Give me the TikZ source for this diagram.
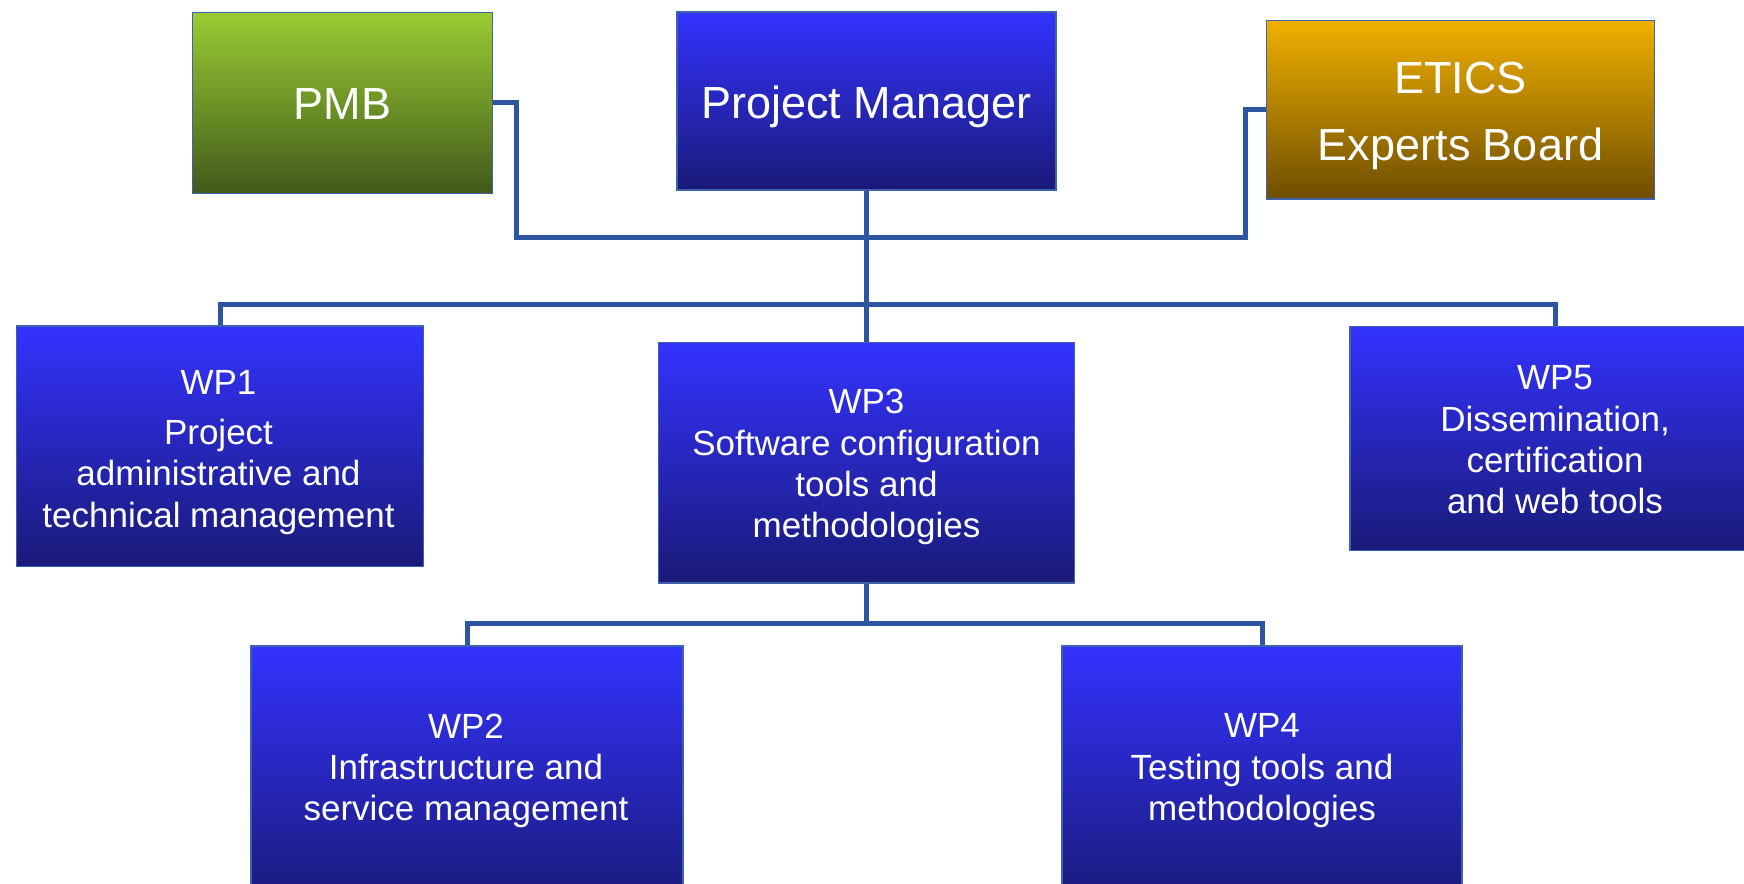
\documentclass[tikz,border=0pt]{standalone}
\usepackage{fontspec}
\setmainfont{Liberation Sans}
\definecolor{bluetop}{HTML}{3333FF}
\definecolor{bluebot}{HTML}{1A1A78}
\definecolor{greentop}{HTML}{99CC33}
\definecolor{greenbot}{HTML}{425A1A}
\definecolor{orangetop}{HTML}{F0B000}
\definecolor{orangebot}{HTML}{6E4E00}
\definecolor{edgecol}{HTML}{3F62A8}
\definecolor{conncol}{HTML}{2E55A0}
\begin{document}
\begin{tikzpicture}[x=1pt,y=-1pt,
  box/.style={draw=edgecol, line width=1.5pt, inner sep=0pt, rectangle},
  bluebox/.style={box, top color=bluetop, bottom color=bluebot},
  greenbox/.style={box, top color=greentop, bottom color=greenbot},
  orangebox/.style={box, top color=orangetop, bottom color=orangebot},
  conn/.style={draw=conncol, line width=5pt},
  bigtxt/.style={text=white, font=\fontsize{45}{66.5}\selectfont, inner sep=0pt, align=center},
  smalltxt/.style={text=white, font=\fontsize{35}{41.4}\selectfont, inner sep=0pt, align=center}]
\useasboundingbox (0,0) rectangle (1744,883);
\clip (0,0) rectangle (1744,883);
% connector junctions
\coordinate (ja) at (516.7,237.7);
\coordinate (jb) at (1245,237.7);
\coordinate (jc) at (866.5,304);
\coordinate (jd) at (866.5,623);
% boxes
\node[greenbox, minimum width=300pt, minimum height=181pt] (pmb) at (342.6,102.8) {};
\node[bluebox, minimum width=379pt, minimum height=178pt] (pm) at (866.5,101.2) {};
\node[orangebox, minimum width=387.6pt, minimum height=178.3pt] (etics) at (1460.5,109.85) {};
\node[bluebox, minimum width=407pt, minimum height=240.7pt] (wp1) at (220,446.3) {};
\node[bluebox, minimum width=416pt, minimum height=240.2pt] (wp3) at (866.5,462.7) {};
\node[bluebox, minimum width=410pt, minimum height=224pt] (wp5) at (1555,438.7) {};
\node[bluebox, minimum width=432pt, minimum height=260pt] (wp2) at (467,776) {};
\node[bluebox, minimum width=400pt, minimum height=260pt] (wp4) at (1262,776) {};
% connectors
\draw[conn] (pmb.east) -| (ja) -- (jb) |- (etics.west);
\draw[conn] (pm.south) -- (wp3.north);
\draw[conn] (wp1.north) |- (jc) -| (wp5.north);
\draw[conn] (wp3.south) -- (jd);
\draw[conn] (wp2.north) |- (jd) -| (wp4.north);
% texts
\node[bigtxt, anchor=base] (pmbt) at (342.6,119.5) {PMB};
\node[bigtxt, anchor=base] (pmt) at (866.4,118.5) {Project Manager};
\node[bigtxt, anchor=north] (eticst) at (1460.5,62) {ETICS\\Experts Board};
\node[smalltxt, anchor=north] (wp1t) at (218.5,370) {WP1\\[8.6pt]Project\\administrative and\\technical management};
\node[smalltxt, anchor=north] (wp3t) at (866.5,389) {WP3\\Software configuration\\tools and\\methodologies};
\node[smalltxt, anchor=north] (wp5t) at (1555,365.5) {WP5\\Dissemination,\\certification\\and web tools};
\node[smalltxt, anchor=north] (wp2t) at (466,713.5) {WP2\\Infrastructure and\\service management};
\node[smalltxt, anchor=north] (wp4t) at (1262,713.5) {WP4\\Testing tools and\\methodologies};
\end{tikzpicture}
\end{document}
